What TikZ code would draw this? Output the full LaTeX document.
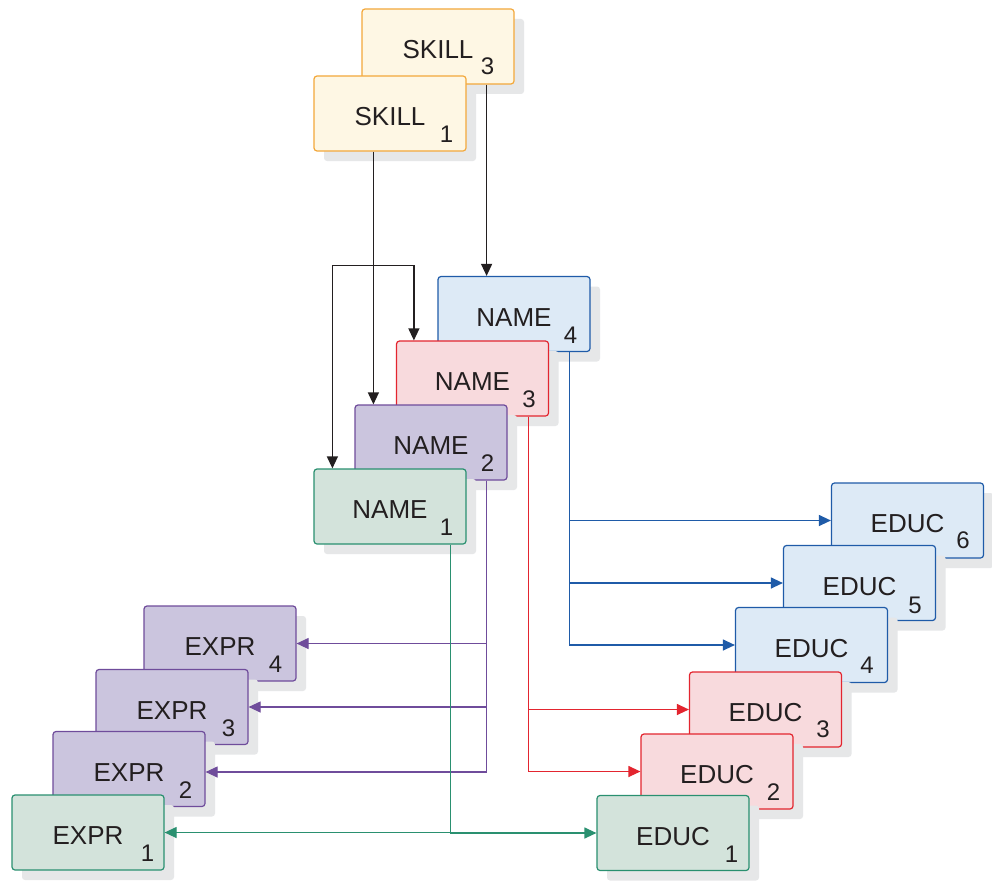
\documentclass[tikz,border=0pt]{standalone}
\usepackage{fontspec}
\setmainfont{Liberation Sans}
\usepackage{xcolor}
\definecolor{inkblack}{HTML}{231F20}
\definecolor{shadowgray}{HTML}{E6E7E8}
\definecolor{skillfill}{HTML}{FEF7E4}
\definecolor{skillline}{HTML}{F3A83B}
\definecolor{bluefill}{HTML}{DDEAF6}
\definecolor{blueline}{HTML}{1F5BA8}
\definecolor{redfill}{HTML}{F8DADD}
\definecolor{redline}{HTML}{E3252F}
\definecolor{purplefill}{HTML}{CBC5DE}
\definecolor{purpleline}{HTML}{6F4C9B}
\definecolor{greenfill}{HTML}{D3E3DB}
\definecolor{greenline}{HTML}{2A9070}
\usepackage{tikz}
\usetikzlibrary{
  arrows.meta,
  calc,
  shadows
}
\tikzset{
  box/.style={draw, rounded corners=3pt, line width=1.2pt,
    minimum width=152pt, minimum height=75pt, inner sep=0pt,
    text height=30pt, text depth=6pt, text=inkblack,
    font=\fontsize{26}{30}\selectfont,
    drop shadow={shadow xshift=10pt, shadow yshift=-10pt,
      fill=shadowgray, opacity=1}},
  skillbox/.style={box, fill=skillfill, draw=skillline},
  bluebox/.style={box, fill=bluefill, draw=blueline},
  redbox/.style={box, fill=redfill, draw=redline},
  purplebox/.style={box, fill=purplefill, draw=purpleline},
  greenbox/.style={box, fill=greenfill, draw=greenline},
  idx/.style={anchor=base, inner sep=0pt, text=inkblack,
    font=\fontsize{24}{28}\selectfont},
  link/.style={line width=1.2pt, -{Triangle[length=12pt, width=11pt]}},
}

\begin{document}
\begin{tikzpicture}[x=1pt, y=-1pt]
  \path[use as bounding box, fill=white] (0,0) rectangle (992,880);

  % Skill records
  \node[skillbox] (skill3) at (438,46.5) {SKILL};
  \node[idx] (skill3i) at ($(skill3.south east)+(-27,-10)$) {3};
  \node[skillbox] (skill1) at (390,113.5) {SKILL};
  \node[idx] (skill1i) at ($(skill1.south east)+(-20,-9)$) {1};

  % Name records
  \node[bluebox] (name4) at (514,314) {NAME};
  \node[idx] (name4i) at ($(name4.south east)+(-20,-9)$) {4};
  \node[redbox] (name3) at (472.5,378.5) {NAME};
  \node[idx] (name3i) at ($(name3.south east)+(-20,-9)$) {3};
  \node[purplebox] (name2) at (431,442.5) {NAME};
  \node[idx] (name2i) at ($(name2.south east)+(-20,-9)$) {2};
  \node[greenbox] (name1) at (390,506.5) {NAME};
  \node[idx] (name1i) at ($(name1.south east)+(-20,-9)$) {1};

  % Experience records
  \node[purplebox] (expr4) at (220,643.5) {EXPR};
  \node[idx] (expr4i) at ($(expr4.south east)+(-21,-9)$) {4};
  \node[purplebox] (expr3) at (172,707) {EXPR};
  \node[idx] (expr3i) at ($(expr3.south east)+(-20,-9)$) {3};
  \node[purplebox] (expr2) at (129,769) {EXPR};
  \node[idx] (expr2i) at ($(expr2.south east)+(-20,-9)$) {2};
  \node[greenbox] (expr1) at (88,832.5) {EXPR};
  \node[idx] (expr1i) at ($(expr1.south east)+(-17,-9)$) {1};

  % Education records
  \node[bluebox] (educ6) at (907.5,520.5) {EDUC};
  \node[idx] (educ6i) at ($(educ6.south east)+(-21,-10)$) {6};
  \node[bluebox] (educ5) at (859.5,583) {EDUC};
  \node[idx] (educ5i) at ($(educ5.south east)+(-21,-8)$) {5};
  \node[bluebox] (educ4) at (811.5,645) {EDUC};
  \node[idx] (educ4i) at ($(educ4.south east)+(-21,-10)$) {4};
  \node[redbox] (educ3) at (765.5,709.5) {EDUC};
  \node[idx] (educ3i) at ($(educ3.south east)+(-19,-10)$) {3};
  \node[redbox] (educ2) at (717,771.5) {EDUC};
  \node[idx] (educ2i) at ($(educ2.south east)+(-20,-9)$) {2};
  \node[greenbox] (educ1) at (673,833) {EDUC};
  \node[idx] (educ1i) at ($(educ1.south east)+(-18,-9)$) {1};

  % Skill pointers
  \coordinate (s3) at ($(skill3.south east)+(-28,0)$);
  \draw[link, inkblack] (s3) -- (s3 |- name4.north);
  \coordinate (s1) at ($(skill1.south west)+(60,0)$);
  \draw[link, inkblack] (s1) -- (s1 |- name2.north);
  \coordinate (fork) at ($(s1)+(0,114)$);
  \draw[link, inkblack] (fork) -| ($(name1.north west)+(19,0)$);
  \draw[link, inkblack] (fork) -| ($(name3.north west)+(18,0)$);

  % Name pointers
  \coordinate (n4) at ($(name4.south east)+(-21,0)$);
  \draw[link, blueline] (n4) |- (educ4.west);
  \draw[link, blueline] (n4) |- (educ5.west);
  \draw[link, blueline] (n4) |- (educ6.west);
  \coordinate (n3) at ($(name3.south east)+(-21,0)$);
  \draw[link, redline] (n3) |- (educ2.west);
  \draw[link, redline] (n3) |- (educ3.west);
  \coordinate (n2) at ($(name2.south east)+(-21,0)$);
  \draw[link, purpleline] (n2) |- ($(expr2.east)+(0,3)$);
  \draw[link, purpleline] (n2) |- (expr3.east);
  \draw[link, purpleline] (n2) |- (expr4.east);
  \coordinate (n1) at ($(name1.south east)+(-16,0)$);
  \draw[link, greenline] (n1) |- (expr1.east);
  \draw[link, greenline] (n1) |- (educ1.west);
\end{tikzpicture}
\end{document}
